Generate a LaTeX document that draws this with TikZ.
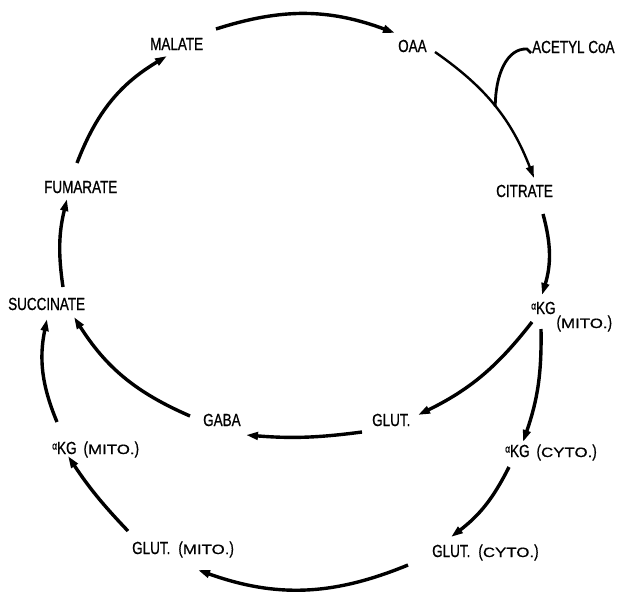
\documentclass[tikz,border=0pt]{standalone}
\usepackage{fontspec}
\setmainfont{Liberation Sans}[FakeStretch=0.77, FakeBold=0.8]
\newfontfamily\scfont{Liberation Sans}[FakeStretch=1.25, FakeBold=0.6]
\usetikzlibrary{arrows.meta}
\newcommand{\metfont}{\fontsize{17.5}{20}\selectfont}
\newcommand{\alf}{\raisebox{4.5pt}{\fontsize{11}{11}\selectfont α}}
\newcommand{\smc}[1]{{\scfont\fontsize{13.5}{14}\selectfont #1}}
\tikzset{met/.style={anchor=base west, inner sep=0pt, font=\metfont},
  conv/.style={-{Triangle[length=12pt,width=7.5pt]}, line width=3.4pt}}
\begin{document}
\begin{tikzpicture}[x=1pt,y=-1pt]
\useasboundingbox (0,0) rectangle (621,592);
% metabolites
\node at (150,50) (malate) [met] {MALATE};
\node at (398,52) (oaa) [met] {OAA};
\node at (532,53) (acetyl) [met] {ACETYL CoA};
\node at (496,197) (citrate) [met] {CITRATE};
\node at (531,314) (akgmito) [met] {\alf KG\kern1pt\raisebox{-14pt}{(\smc{MITO.})}};
\node at (372,426) (glut) [met] {GLUT.};
\node at (203,426) (gaba) [met] {GABA};
\node at (505,457) (akgcyto) [met] {\alf KG\hspace{7pt}(\smc{CYTO.})};
\node at (432,557) (glutcyto) [met] {GLUT.\hspace{8pt}(\smc{CYTO.})};
\node at (132,554) (glutmito) [met] {GLUT.\hspace{8pt}(\smc{MITO.})};
\node at (52,454) (akgleft) [met] {\alf KG\hspace{7pt}(\smc{MITO.})};
\node at (8,310) (succinate) [met] {SUCCINATE};
\node at (44,193) (fumarate) [met] {FUMARATE};
% cycle
\draw[conv] ([shift={(33,-30)}]fumarate.base west) to[bend left=19] ([shift={(17,6)}]malate.base west);
\draw[conv] ([shift={(66,-21)}]malate.base west) to[bend left=19] ([shift={(-3,-19)}]oaa.base west);
\draw[conv, line width=2.4pt] ([shift={(37,0)}]oaa.base west) to[bend left=17] node[pos=0.5, coordinate] (join) {} ([shift={(38,-19)}]citrate.base west);
\draw[line width=2.8pt] ([shift={(-1,0)}]acetyl.base west) -- ++(-4,-4) .. controls +(-20,-1) and +(0,-32) .. (join);
\draw[conv] ([shift={(47,17)}]citrate.base west) to[bend left=16] ([shift={(11,-19)}]akgmito.base west);
\draw[conv] ([shift={(1,8)}]akgmito.base west) to[bend left=13] ([shift={(46,-11)}]glut.base west);
\draw[conv] ([shift={(10,15)}]akgmito.base west) to[bend left=10] ([shift={(18,-15)}]akgcyto.base west);
\draw[conv] ([shift={(4,10)}]akgcyto.base west) to[bend left=13] ([shift={(19,-20)}]glutcyto.base west);
\draw[conv] ([shift={(-24,8)}]glutcyto.base west) to[bend left=21] ([shift={(66,16)}]glutmito.base west);
\draw[conv] ([shift={(-4,-23)}]glutmito.base west) to[bend left=5] ([shift={(16,2)}]akgleft.base west);
\draw[conv] ([shift={(5,-32)}]akgleft.base west) to[bend left=17] ([shift={(39,9)}]succinate.base west);
\draw[conv] ([shift={(-10,6)}]glut.base west) to[bend left=6] ([shift={(43,9)}]gaba.base west);
\draw[conv] ([shift={(-13,-10)}]gaba.base west) to[bend left=17] ([shift={(66,7)}]succinate.base west);
\draw[conv] ([shift={(55,-23)}]succinate.base west) to[bend left=11] ([shift={(23,6)}]fumarate.base west);
\end{tikzpicture}
\end{document}
